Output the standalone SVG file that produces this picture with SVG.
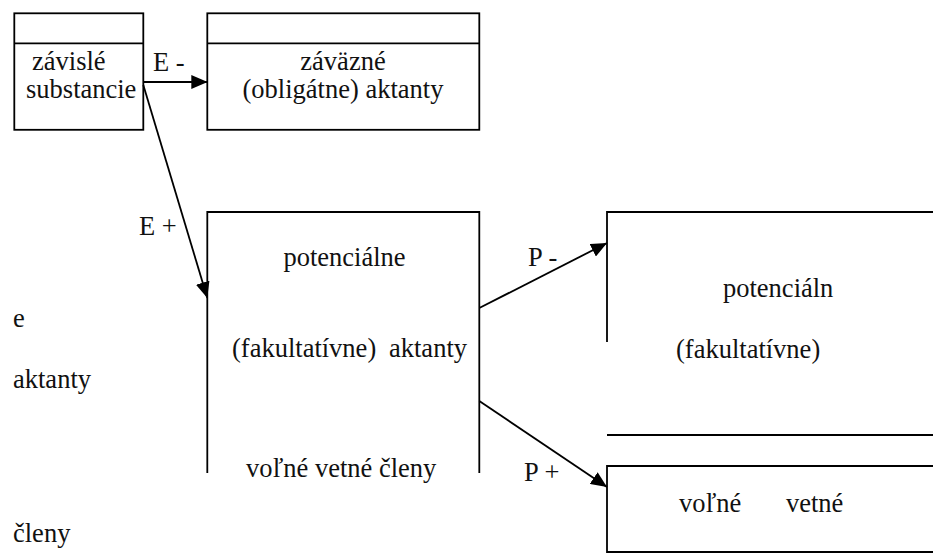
<svg xmlns="http://www.w3.org/2000/svg" width="933" height="558" viewBox="0 0 933 558">
<style>
.b{fill:none;stroke:#000;stroke-width:1.8}
</style>
<defs>
<marker id="ah" viewBox="0 0 16 14" refX="16" refY="7" markerWidth="16" markerHeight="14" markerUnits="userSpaceOnUse" orient="auto">
<path d="M0,0 L16,7 L0,14 Z" fill="#000"/>
</marker>
</defs>
<rect width="933" height="558" fill="#fff"/>
<g id="zavisle">
<rect class="b" x="14.3" y="13.3" width="129" height="116.5"/>
<line class="b" x1="14.3" y1="43.3" x2="143.3" y2="43.3"/>
<text x="32" y="70" font-family="Times New Roman, Liberation Serif, serif" font-size="26.5" fill="#111">závislé</text>
<text x="26" y="98" font-family="Times New Roman, Liberation Serif, serif" font-size="26.5" fill="#111">substancie</text>
</g>
<g id="zavazne">
<rect class="b" x="207.3" y="13.3" width="272" height="116.5"/>
<line class="b" x1="207.3" y1="43.3" x2="479.3" y2="43.3"/>
<text x="343" y="70" text-anchor="middle" font-family="Times New Roman, Liberation Serif, serif" font-size="26.5" fill="#111">záväzné</text>
<text x="343" y="98" text-anchor="middle" font-family="Times New Roman, Liberation Serif, serif" font-size="26.5" fill="#111">(obligátne) aktanty</text>
</g>
<g id="potencialne">
<path class="b" d="M207.3,473 V212 H479.3 V473"/>
<text x="344.5" y="266" text-anchor="middle" font-family="Times New Roman, Liberation Serif, serif" font-size="26.5" fill="#111">potenciálne</text>
<text x="232" y="357" font-family="Times New Roman, Liberation Serif, serif" font-size="26.5" fill="#111">(fakultatívne)<tspan x="389">aktanty</tspan></text>
<text x="246" y="477" font-family="Times New Roman, Liberation Serif, serif" font-size="26.5" fill="#111">voľné vetné členy</text>
</g>
<g id="potencialn-box">
<path class="b" d="M607,342 V212 H934"/>
<line class="b" x1="607" y1="435" x2="934" y2="435"/>
<text x="723" y="297" font-family="Times New Roman, Liberation Serif, serif" font-size="26.5" fill="#111">potenciáln</text>
<text x="676" y="358" font-family="Times New Roman, Liberation Serif, serif" font-size="26.5" fill="#111">(fakultatívne)</text>
</g>
<g id="volne-box">
<path class="b" d="M934,466 H607 V552 H934"/>
<text x="679" y="512" font-family="Times New Roman, Liberation Serif, serif" font-size="26.5" fill="#111">voľné</text>
<text x="786" y="512" font-family="Times New Roman, Liberation Serif, serif" font-size="26.5" fill="#111">vetné</text>
</g>
<g id="left-text">
<text x="13" y="327" font-family="Times New Roman, Liberation Serif, serif" font-size="26.5" fill="#111">e</text>
<text x="13" y="388" font-family="Times New Roman, Liberation Serif, serif" font-size="26.5" fill="#111">aktanty</text>
<text x="13" y="542" font-family="Times New Roman, Liberation Serif, serif" font-size="26.5" fill="#111">členy</text>
</g>
<g id="connectors">
<line class="b" x1="143.3" y1="82" x2="207.3" y2="82" marker-end="url(#ah)"/>
<line class="b" x1="143.3" y1="85" x2="207.3" y2="298" marker-end="url(#ah)"/>
<line class="b" x1="479.3" y1="308" x2="607" y2="243" marker-end="url(#ah)"/>
<line class="b" x1="479.3" y1="401" x2="607" y2="487" marker-end="url(#ah)"/>
<text x="153" y="71" font-family="Times New Roman, Liberation Serif, serif" font-size="26.5" fill="#111">E -</text>
<text x="139" y="235" font-family="Times New Roman, Liberation Serif, serif" font-size="26.5" fill="#111">E +</text>
<text x="528" y="266" font-family="Times New Roman, Liberation Serif, serif" font-size="26.5" fill="#111">P -</text>
<text x="524" y="481" font-family="Times New Roman, Liberation Serif, serif" font-size="26.5" fill="#111">P +</text>
</g>
</svg>
